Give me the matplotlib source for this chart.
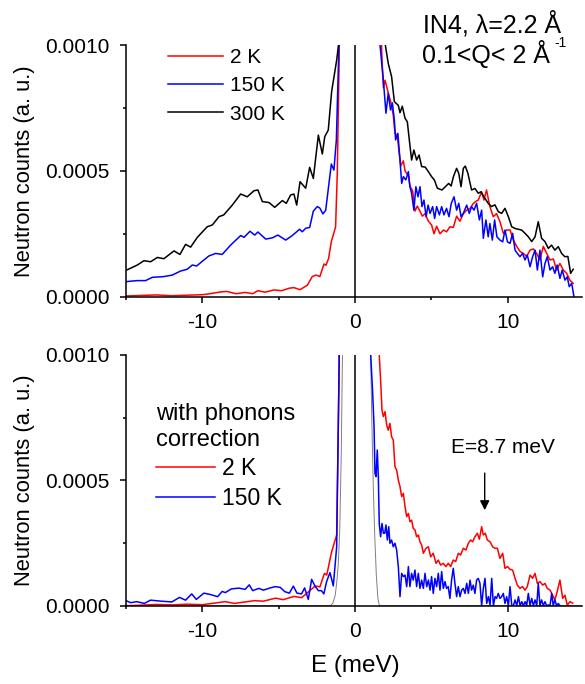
import numpy as np
import matplotlib.pyplot as plt

plt.rcParams['font.family'] = ['Liberation Sans', 'DejaVu Sans']
plt.rcParams['font.size'] = 15
plt.rcParams['axes.unicode_minus'] = False

# ---- panel superior: datos medidos ----
red_top_x = [-15, -14, -13, -12, -11, -10, -9.5, -8.8, -8.4, -7.8, -7.2, -6.7, -6.36, -5.9, -5.3,
             -4.8, -4.3, -4.0, -3.6, -3.12, -2.8, -2.55, -2.3, -2.03, -1.9, -1.73, -1.55, -1.4,
             -1.27, -1.16, -1.05, -0.8,
             1.5, 1.75, 1.86, 1.97, 2.18, 2.4, 2.51, 2.62, 2.77, 2.9, 3.0, 3.17, 3.28, 3.5, 3.6,
             3.78, 3.93, 4.08, 4.26, 4.41, 4.59, 4.81, 5.02, 5.18, 5.35, 5.57, 5.8, 6.0, 6.22,
             6.44, 6.66, 6.88, 7.1, 7.32, 7.53, 7.75, 7.9, 8.08, 8.3, 8.45, 8.62, 8.84, 9.06,
             9.28, 9.5, 9.72, 9.94, 10.16, 10.38, 10.6, 10.81, 11.03, 11.25, 11.47, 11.69, 11.9,
             12.12, 12.34, 12.56, 12.78, 13.0, 13.21, 13.43, 13.65, 13.87, 14.08, 14.3]
red_top_y = [3e-6, 5e-6, 7e-6, 4e-6, 6e-6, 8e-6, 12e-6, 19e-6, 21e-6, 12e-6, 17e-6, 12e-6, 24e-6,
             18e-6, 27e-6, 24e-6, 34e-6, 36e-6, 28e-6, 46e-6, 80e-6, 86e-6, 80e-6, 130e-6, 125e-6,
             152e-6, 219e-6, 250e-6, 278e-6, 490e-6, 900e-6, 3e-3,
             3e-3, 970e-6, 830e-6, 860e-6, 810e-6, 760e-6, 720e-6, 650e-6, 640e-6, 570e-6,
             520e-6, 540e-6, 500e-6, 480e-6, 440e-6, 420e-6, 340e-6, 360e-6, 340e-6, 320e-6,
             330e-6, 300e-6, 285e-6, 250e-6, 280e-6, 250e-6, 265e-6, 258e-6, 278e-6, 275e-6,
             320e-6, 300e-6, 330e-6, 344e-6, 350e-6, 370e-6, 378e-6, 384e-6, 417e-6, 384e-6,
             424e-6, 358e-6, 318e-6, 330e-6, 298e-6, 252e-6, 265e-6, 265e-6, 225e-6, 200e-6,
             180e-6, 172e-6, 160e-6, 185e-6, 190e-6, 172e-6, 146e-6, 200e-6, 172e-6, 146e-6,
             150e-6, 106e-6, 132e-6, 106e-6, 93e-6, 66e-6, 53e-6]

blue_top_x = [-15, -14.26, -13.72, -13.28, -12.52, -11.97, -11.43, -11.0, -10.66, -10.38, -9.9,
              -9.57, -9.13, -8.7, -8.15, -7.49, -7.27, -6.88, -6.57, -6.36, -5.85, -5.41, -5.05,
              -4.54, -4.11, -3.63, -3.45, -3.23, -2.97, -2.73, -2.47, -2.3, -2.1, -1.92, -1.55,
              -1.38, -1.22, -1.05, -0.8,
              1.4, 1.64, 1.86, 2.03, 2.18, 2.33, 2.45, 2.58, 2.66, 2.81, 2.95, 3.06, 3.17, 3.33,
              3.5, 3.6, 3.71, 3.86, 3.99, 4.13, 4.26, 4.39, 4.52, 4.66, 4.79, 4.92, 5.09, 5.22,
              5.35, 5.53, 5.68, 5.83, 6.0, 6.16, 6.31, 6.49, 6.66, 6.8, 6.95, 7.1, 7.32, 7.49,
              7.64, 7.8, 7.97, 8.15, 8.3, 8.41, 8.58, 8.73, 8.84, 9.0, 9.15, 9.3, 9.5, 9.68, 9.83,
              9.99, 10.16, 10.33, 10.49, 10.64, 10.81, 10.98, 11.14, 11.29, 11.47, 11.64, 11.8,
              11.95, 12.12, 12.3, 12.45, 12.6, 12.78, 12.95, 13.1, 13.25, 13.43, 13.58, 13.76,
              13.91, 14.04, 14.2, 14.35]
blue_top_y = [60e-6, 64e-6, 64e-6, 77e-6, 80e-6, 86e-6, 102e-6, 109e-6, 126e-6, 122e-6, 146e-6,
              162e-6, 172e-6, 168e-6, 205e-6, 243e-6, 236e-6, 260e-6, 245e-6, 257e-6, 229e-6,
              234e-6, 245e-6, 225e-6, 243e-6, 268e-6, 258e-6, 272e-6, 275e-6, 340e-6, 358e-6,
              352e-6, 329e-6, 343e-6, 527e-6, 503e-6, 623e-6, 1e-3, 3e-3,
              3e-3, 1e-3, 860e-6, 729e-6, 808e-6, 742e-6, 770e-6, 702e-6, 623e-6, 649e-6,
              543e-6, 450e-6, 477e-6, 464e-6, 497e-6, 437e-6, 411e-6, 344e-6, 437e-6, 397e-6,
              437e-6, 358e-6, 384e-6, 318e-6, 364e-6, 331e-6, 358e-6, 311e-6, 358e-6, 325e-6,
              358e-6, 325e-6, 351e-6, 318e-6, 371e-6, 397e-6, 344e-6, 371e-6, 318e-6, 331e-6,
              364e-6, 331e-6, 358e-6, 344e-6, 371e-6, 305e-6, 344e-6, 232e-6, 305e-6, 238e-6,
              291e-6, 225e-6, 305e-6, 238e-6, 225e-6, 218e-6, 265e-6, 218e-6, 212e-6, 252e-6,
              185e-6, 172e-6, 159e-6, 172e-6, 146e-6, 166e-6, 119e-6, 159e-6, 185e-6, 106e-6,
              185e-6, 79e-6, 132e-6, 159e-6, 106e-6, 119e-6, 93e-6, 126e-6, 73e-6, 106e-6,
              66e-6, 79e-6, 40e-6, 53e-6, 0.0]

black_top_x = [-14.96, -14.26, -13.83, -13.39, -12.95, -12.52, -11.86, -11.47, -11.1, -10.77,
               -10.33, -9.68, -9.35, -8.91, -8.6, -8.04, -7.49, -7.06, -6.62, -6.36, -6.07, -5.63,
               -5.26, -4.76, -4.5, -4.22, -4.0, -3.82, -3.6, -3.23, -2.97, -2.73, -2.4, -2.14,
               -1.98, -1.75, -1.53, -1.2, -1.08, -0.8,
               1.7, 1.97, 2.18, 2.4, 2.58, 2.84, 2.95, 3.1, 3.28, 3.43, 3.56, 3.71, 3.86, 4.04,
               4.2, 4.37, 4.6, 4.81, 5.02, 5.2, 5.4, 5.7, 5.92, 6.14, 6.3, 6.45, 6.66, 6.8, 6.95,
               7.1, 7.23, 7.4, 7.64, 7.86, 8.08, 8.25, 8.45, 8.73, 8.95, 9.17, 9.39, 9.61, 9.83,
               10.05, 10.27, 10.49, 10.7, 10.92, 11.14, 11.36, 11.58, 11.8, 12.01, 12.23, 12.45,
               12.67, 12.88, 13.1, 13.32, 13.54, 13.75, 13.95, 14.13, 14.3]
black_top_y = [106e-6, 126e-6, 143e-6, 139e-6, 156e-6, 151e-6, 182e-6, 168e-6, 208e-6, 197e-6,
               236e-6, 278e-6, 285e-6, 318e-6, 325e-6, 364e-6, 408e-6, 397e-6, 421e-6, 424e-6,
               378e-6, 374e-6, 355e-6, 382e-6, 371e-6, 404e-6, 408e-6, 364e-6, 457e-6, 431e-6,
               514e-6, 470e-6, 642e-6, 567e-6, 636e-6, 662e-6, 815e-6, 940e-6, 1e-3, 3e-3,
               3e-3, 1.007e-3, 927e-6, 874e-6, 775e-6, 760e-6, 731e-6, 757e-6, 709e-6, 695e-6,
               623e-6, 543e-6, 583e-6, 543e-6, 563e-6, 517e-6, 515e-6, 497e-6, 477e-6, 464e-6,
               431e-6, 424e-6, 437e-6, 450e-6, 440e-6, 477e-6, 510e-6, 490e-6, 437e-6, 510e-6,
               519e-6, 490e-6, 424e-6, 430e-6, 411e-6, 417e-6, 397e-6, 371e-6, 358e-6, 365e-6,
               338e-6, 331e-6, 351e-6, 318e-6, 278e-6, 271e-6, 268e-6, 265e-6, 252e-6, 238e-6,
               219e-6, 238e-6, 298e-6, 232e-6, 219e-6, 192e-6, 205e-6, 185e-6, 199e-6, 172e-6,
               159e-6, 160e-6, 93e-6, 109e-6]

# ---- panel inferior: con corrección de fonones ----
red_bot_x = [-15, -14, -13, -12, -11, -10, -9.5, -8.5, -7.9, -7.3, -6.6, -6.0, -5.2, -4.7, -4.0,
             -3.5, -3.3, -2.9, -2.6, -2.3, -2.0, -1.85, -1.53, -1.2, -1.05, -0.8,
             1.45, 1.59, 1.68, 1.77, 1.86, 1.97, 2.08, 2.18, 2.29, 2.4, 2.51, 2.62, 2.73, 2.84,
             2.95, 3.06, 3.17, 3.28, 3.39, 3.5, 3.6, 3.71, 3.82, 3.93, 4.04, 4.15, 4.26, 4.37,
             4.48, 4.65, 4.81, 4.96, 5.13, 5.31, 5.46, 5.61, 5.78, 5.96, 6.11, 6.27, 6.44, 6.6,
             6.77, 6.92, 7.1, 7.27, 7.43, 7.58, 7.71, 7.86, 8.02, 8.15, 8.3, 8.41, 8.54, 8.67,
             8.85, 9.02, 9.17, 9.33, 9.5, 9.68, 9.83, 10.0, 10.16, 10.33, 10.49, 10.64, 10.81,
             10.98, 11.14, 11.29, 11.47, 11.64, 11.8, 11.95, 12.12, 12.3, 12.45, 12.6, 12.78,
             12.95, 13.1, 13.25, 13.43, 13.61, 13.76, 13.91, 14.09, 14.27]
red_bot_y = [0, 2e-6, 5e-6, 3e-6, 6e-6, 4e-6, 8e-6, 16e-6, 9e-6, 14e-6, 20e-6, 18e-6, 30e-6, 24e-6,
             37e-6, 32e-6, 42e-6, 63e-6, 79e-6, 75e-6, 129e-6, 122e-6, 215e-6, 282e-6, 900e-6,
             3e-3,
             3e-3, 1e-3, 900e-6, 780e-6, 754e-6, 774e-6, 720e-6, 700e-6, 727e-6, 674e-6, 661e-6,
             554e-6, 541e-6, 501e-6, 475e-6, 435e-6, 448e-6, 395e-6, 355e-6, 368e-6, 335e-6,
             341e-6, 308e-6, 302e-6, 275e-6, 282e-6, 255e-6, 242e-6, 209e-6, 229e-6, 235e-6,
             195e-6, 209e-6, 169e-6, 182e-6, 162e-6, 169e-6, 156e-6, 169e-6, 156e-6, 182e-6,
             176e-6, 209e-6, 202e-6, 229e-6, 222e-6, 249e-6, 262e-6, 255e-6, 275e-6, 289e-6,
             265e-6, 315e-6, 282e-6, 289e-6, 262e-6, 255e-6, 235e-6, 229e-6, 229e-6, 189e-6,
             209e-6, 149e-6, 156e-6, 145e-6, 142e-6, 109e-6, 82e-6, 69e-6, 76e-6, 62e-6, 76e-6,
             122e-6, 109e-6, 129e-6, 89e-6, 96e-6, 82e-6, 89e-6, 69e-6, 62e-6, 42e-6, 23e-6,
             56e-6, 102e-6, 29e-6, 42e-6, 2e-6, 16e-6, 10e-6]

blue_bot_x = [-15.0, -14.7, -14.3, -13.8, -13.4, -12.7, -12.0, -11.5, -11.1, -10.7, -10.4, -9.9,
              -9.5, -9.0, -8.7, -8.5, -8.1, -7.6, -7.2, -6.93, -6.7, -6.3, -6.0, -5.6, -5.24,
              -4.9, -4.6, -4.3, -4.04, -3.8, -3.5, -3.3, -3.06, -2.84, -2.62, -2.4, -2.2, -2.04,
              -1.86, -1.64, -1.42, -1.2, -1.03, -0.8,
              0.9, 1.03, 1.16, 1.25, 1.31, 1.38, 1.46, 1.53, 1.59, 1.68, 1.77, 1.86, 1.95, 2.03,
              2.12, 2.21, 2.29, 2.4, 2.51, 2.62, 2.73, 2.84, 2.95, 3.06, 3.17, 3.28, 3.39, 3.5,
              3.6, 3.71, 3.82, 3.93, 4.04, 4.15, 4.26, 4.37, 4.48, 4.59, 4.7, 4.81, 4.92, 5.02,
              5.13, 5.24, 5.35, 5.46, 5.57, 5.68, 5.79, 5.9, 6.0, 6.11, 6.22, 6.33, 6.44, 6.55,
              6.66, 6.77, 6.88, 6.99, 7.1, 7.21, 7.32, 7.43, 7.54, 7.64, 7.75, 7.86, 7.97, 8.08,
              8.19, 8.3, 8.41, 8.52, 8.63, 8.74, 8.85, 8.96, 9.07, 9.18, 9.28, 9.39, 9.5, 9.61,
              9.72, 9.83, 9.94, 10.05, 10.16, 10.27, 10.38, 10.49, 10.6, 10.71, 10.82, 10.93,
              11.04, 11.15, 11.25, 11.36, 11.47, 11.58, 11.69, 11.8, 11.91, 12.01, 12.12, 12.23,
              12.34, 12.45, 12.56, 12.67, 12.78, 12.89, 12.99, 13.1, 13.21, 13.32, 13.43]
blue_bot_y = [20e-6, 12e-6, 16e-6, 9e-6, 22e-6, 18e-6, 15e-6, 33e-6, 22e-6, 47e-6, 25e-6, 50e-6,
              45e-6, 36e-6, 57e-6, 52e-6, 67e-6, 70e-6, 65e-6, 83e-6, 60e-6, 69e-6, 62e-6, 70e-6,
              76e-6, 73e-6, 56e-6, 50e-6, 78e-6, 50e-6, 47e-6, 71e-6, 25e-6, 105e-6, 78e-6, 60e-6,
              60e-6, 47e-6, 96e-6, 132e-6, 79e-6, 235e-6, 1e-3, 3e-3,
              3e-3, 1e-3, 847e-6, 714e-6, 528e-6, 515e-6, 621e-6, 515e-6, 328e-6, 275e-6,
              328e-6, 289e-6, 289e-6, 322e-6, 262e-6, 315e-6, 249e-6, 262e-6, 235e-6, 249e-6,
              222e-6, 156e-6, 36e-6, 129e-6, 116e-6, 122e-6, 76e-6, 156e-6, 76e-6, 129e-6,
              102e-6, 142e-6, 76e-6, 129e-6, 69e-6, 102e-6, 69e-6, 129e-6, 76e-6, 102e-6, 62e-6,
              116e-6, 49e-6, 109e-6, 76e-6, 129e-6, 62e-6, 136e-6, 69e-6, 96e-6, 69e-6, 76e-6,
              29e-6, 102e-6, 149e-6, 89e-6, 36e-6, 76e-6, 36e-6, 62e-6, 69e-6, 49e-6, 89e-6,
              49e-6, 102e-6, 62e-6, 82e-6, 49e-6, 102e-6, 109e-6, 89e-6, 0.0, 69e-6, 109e-6,
              9e-6, 36e-6, 2e-6, 109e-6, 0.0, 36e-6, 29e-6, 49e-6, 29e-6, 36e-6, 49e-6, 9e-6,
              36e-6, 0.0, 76e-6, 3e-6, 0.0, 23e-6, 0.0, 36e-6, 0.0, 16e-6, 0.0, 16e-6, 0.0,
              49e-6, 0.0, 29e-6, 0.0, 23e-6, 0.0, 89e-6, 0.0, 23e-6, 0.0, 16e-6, 0.0, 3e-6, 0.0,
              49e-6, 0.0, 23e-6, 0.0, 9e-6, 0.0]

# función de resolución (pico elástico)
gray_x = [-15, -1.6, -1.45, -1.3, -1.2, -1.1, -1.0, -0.9, -0.8, -0.5, 0.0, 0.5, 0.8, 0.9, 1.0,
          1.1, 1.2, 1.3, 1.4, 1.5, 1.6, 15]
gray_y = [0, 0, 1e-5, 4e-5, 9e-5, 1.6e-4, 3e-4, 6e-4, 1.1e-3, 6e-3, 2e-2, 8e-3, 2.2e-3, 1.5e-3,
          1.1e-3, 7.5e-4, 4.7e-4, 2.7e-4, 1.2e-4, 3e-5, 0, 0]

fig = plt.figure(figsize=(5.85, 6.84), dpi=100)
ax1 = fig.add_axes([0.2155, 0.5662, 0.78, 0.368])
ax2 = fig.add_axes([0.2155, 0.1145, 0.78, 0.3665])

lw = 1.1
ax1.plot(red_top_x, red_top_y, color='red', lw=lw, label='2 K')
ax1.plot(blue_top_x, blue_top_y, color='blue', lw=lw, label='150 K')
ax1.plot(black_top_x, black_top_y, color='black', lw=lw, label='300 K')

ax2.plot(gray_x, gray_y, color='gray', lw=0.7)
ax2.plot(red_bot_x, red_bot_y, color='red', lw=lw, label='2 K')
ax2.plot(blue_bot_x, blue_bot_y, color='blue', lw=lw, label='150 K')

for ax in (ax1, ax2):
    ax.axvline(0, color='black', lw=1.1)
    ax.set_xlim(-15, 14.9)
    ax.set_ylim(0, 0.001)
    ax.set_xticks([-10, 0, 10])
    ax.set_xticks([-15, -5, 5], minor=True)
    ax.set_yticks([0, 0.0005, 0.001])
    ax.set_yticks([0.00025, 0.00075], minor=True)
    ax.set_yticklabels(['0.0000', '0.0005', '0.0010'])
    ax.spines['top'].set_visible(False)
    ax.spines['right'].set_visible(False)
    for s in ('left', 'bottom'):
        ax.spines[s].set_linewidth(1.1)
    ax.tick_params(which='major', direction='out', length=4.3, width=1.1, pad=7.5)
    ax.tick_params(which='minor', direction='out', length=2.5, width=1.1)
    ax.set_ylabel('Neutron counts (a. u.)', fontsize=15.8)
    ax.yaxis.set_label_coords(-0.2, 0.5)

ax1.legend(loc='upper left', bbox_to_anchor=(0.05, 1.063), frameon=False, fontsize=15,
           handlelength=2.65, handletextpad=0.35, labelspacing=0.45)
leg2 = ax2.legend(loc='upper left', bbox_to_anchor=(0.02, 0.89), frameon=False, fontsize=16.5,
                  title='with phonons\ncorrection', alignment='left',
                  handlelength=2.6, handletextpad=0.3, labelspacing=0.3)
leg2.get_title().set_fontsize(17)

ax2.annotate('', xy=(8.5, 0.00037), xytext=(8.5, 0.00054),
             arrowprops=dict(arrowstyle='-|>', color='black', lw=1, mutation_scale=14))
ax2.text(9.7, 0.00063, 'E=8.7 meV', ha='center', va='center', fontsize=15)

ax2.set_xlabel('E (meV)', fontsize=17.5)
ax2.xaxis.set_label_coords(15 / 29.9, -0.195)

fig.text(0.723, 0.953, 'IN4, λ=2.2 Å', fontsize=18)
fig.text(0.721, 0.908, '0.1<Q< 2 Å', fontsize=18)
fig.text(0.947, 0.932, '-1', fontsize=10)

fig.savefig('out.png', dpi=100)
